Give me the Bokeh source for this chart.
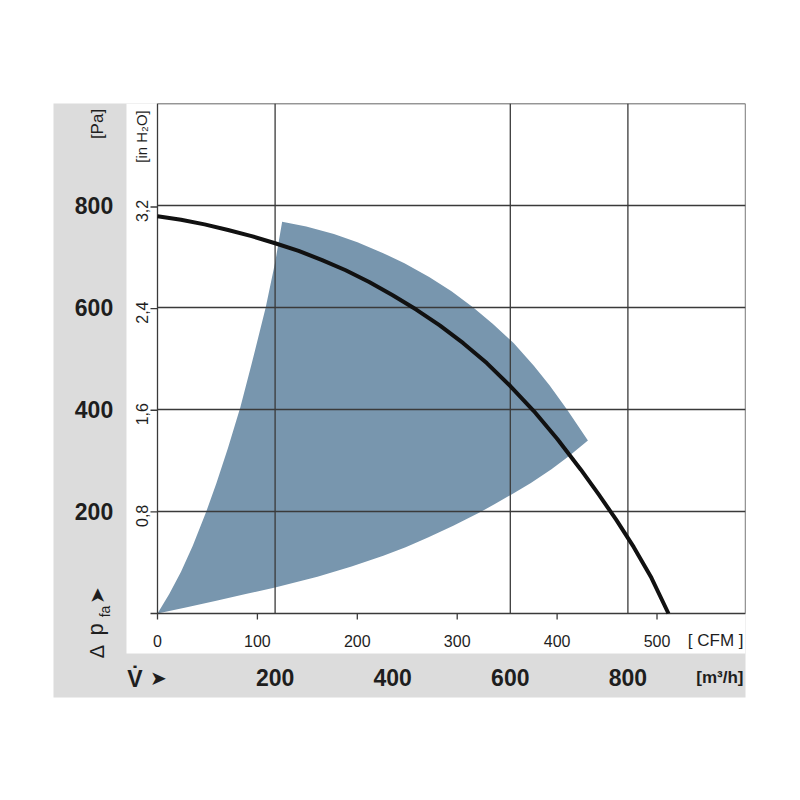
import math
from bokeh.plotting import figure
from bokeh.models import Range1d
from bokeh.core.properties import value
from bokeh.embed import file_html
from bokeh.resources import INLINE

# ---------------- data ----------------
# fan characteristic curve: flow [m3/h], static pressure [Pa]
curve_q = [0, 40, 80, 120, 160, 200, 240, 280, 320, 360, 400, 440, 480, 520,
           560, 600, 640, 680, 720, 750, 780, 810, 840, 869]
curve_p = [779, 772, 763, 752, 740, 726, 711, 693, 673, 650, 624, 596, 565, 530,
           491, 446, 397, 342, 282, 234, 184, 130, 70, 0]

# recommended operating area (shaded), three edges
area_left_q = [0, 20, 40, 60, 83, 100, 120, 141, 160, 184, 200, 212]
area_left_p = [0, 38, 82, 133, 200, 255, 325, 405, 489, 600, 688, 768]
area_top_q = [212, 253, 300, 340, 383, 420, 462, 500, 537, 570, 606, 640, 667, 697, 732]
area_top_p = [768, 759, 744, 728, 707, 687, 660, 632, 600, 568, 530, 486, 447, 399, 339]
area_bottom_q = [732, 700, 670, 635, 600, 573, 546, 503, 460, 422, 384, 330, 272,
                 200, 150, 100, 50, 0]
area_bottom_p = [339, 309, 283, 256, 232, 214, 197, 172, 149, 130, 113, 92, 72,
                 51, 38, 25, 12.5, 0]

pa_ticks = [200, 400, 600, 800]
pa_labels = ["200", "400", "600", "800"]
inh2o_ticks = [0.8, 1.6, 2.4, 3.2]
inh2o_labels = ["0,8", "1,6", "2,4", "3,2"]
cfm_ticks = [0, 100, 200, 300, 400, 500]
cfm_labels = ["0", "100", "200", "300", "400", "500"]
m3h_ticks = [200, 400, 600, 800]
m3h_labels = ["200", "400", "600", "800"]
v_grid = [200, 600, 800]
h_grid = [200, 400, 600, 800]

PA_PER_INH2O = 249.089
M3H_PER_CFM = 1.699011

# ---------------- layout ----------------
FONT = "Liberation Sans"
TXT = "#1e1e1e"
GRAY = "#dcdcdc"
FILL = "#7896ae"
GRID = "#3a3a3a"

SX = 0.588   # px per m3/h
SY = 0.510   # px per Pa
x0 = -(157 - 53) / SX
y0 = -(697 - 613) / SY

def dx(px):  # page-x -> data
    return (px - 157) / SX

def dy(py):  # page-y -> data
    return (613 - py) / SY

p = figure(width=784, height=730, output_backend="svg", toolbar_location=None,
           x_axis_location=None, y_axis_location=None, title=None,
           x_range=Range1d(x0, 1000), y_range=Range1d(y0, 1000),
           min_border_left=53, min_border_top=103, min_border_right=39,
           min_border_bottom=33)
p.outline_line_color = None
p.background_fill_color = GRAY
p.border_fill_color = "white"
for g in p.grid:
    g.visible = False

# white panel
p.quad(left=dx(126), right=1000, bottom=dy(653), top=1000,
       fill_color="white", line_color=None)

# shaded area
patch_x = area_left_q + area_top_q[1:] + area_bottom_q[1:]
patch_y = area_left_p + area_top_p[1:] + area_bottom_p[1:]
p.patch(patch_x, patch_y, fill_color=FILL, line_color=None)

# grid and frame
xs = [[q, q] for q in v_grid] + [[0, 1000] for _ in h_grid]
ys = [[0, 1000] for _ in v_grid] + [[v, v] for v in h_grid]
p.multi_line(xs, ys, line_color=GRID, line_width=1.3)
p.quad(left=0, right=1000, bottom=0, top=1000, fill_color=None,
       line_color=GRID, line_width=1.3)

# ticks: in H2O on the left, CFM below
tl = 7 / SX
txs = [[-tl, 0] for _ in [0] + inh2o_ticks]
tys = [[v * PA_PER_INH2O, v * PA_PER_INH2O] for v in [0] + inh2o_ticks]
p.multi_line(txs, tys, line_color=GRID, line_width=1.3)
tb = 6 / SY
bxs = [[c * M3H_PER_CFM, c * M3H_PER_CFM] for c in cfm_ticks]
bys = [[-tb, 0] for _ in cfm_ticks]
p.multi_line(bxs, bys, line_color=GRID, line_width=1.3)

# fan curve
p.line(curve_q, curve_p, line_color="#111111", line_width=4, line_join="round")

def txt(x, y, t, size, bold=False, align="center", angle=0.0, color=TXT):
    p.text(x=x, y=y, text=t, text_font=value(FONT), text_font_size=value(f"{size}px"),
           text_font_style="bold" if bold else "normal", text_align=align,
           text_baseline="middle", angle=angle, text_color=color)

# Pa labels (left gray column)
txt([dx(93.5)] * len(pa_ticks), pa_ticks, pa_labels, 23, bold=True)
txt([dx(96.5)], [dy(123.5)], ["[Pa]"], 17, angle=math.pi / 2)

# in H2O labels
txt([dx(141)] * len(inh2o_ticks), [v * PA_PER_INH2O - 4 / SY for v in inh2o_ticks],
    inh2o_labels, 16, angle=math.pi / 2)
txt([dx(141)], [dy(136)], ["[in H\u2082O]"], 15, angle=math.pi / 2)

# Delta p_fa arrow label
txt([dx(96)], [dy(651)], ["\u0394"], 20, angle=math.pi / 2)
txt([dx(95)], [dy(629)], ["p"], 22, angle=math.pi / 2)
txt([dx(104)], [dy(611)], ["fa"], 14, angle=math.pi / 2)
txt([dx(96)], [dy(595)], ["\u27a4"], 20, angle=math.pi / 2)

# CFM labels
txt([c * M3H_PER_CFM for c in cfm_ticks], [dy(640)] * len(cfm_ticks), cfm_labels, 16)
txt([dx(743)], [dy(640)], ["[ CFM ]"], 17, align="right")

# m3/h labels (bottom gray band)
txt(m3h_ticks, [dy(677)] * len(m3h_ticks), m3h_labels, 23, bold=True)
txt([dx(743)], [dy(677)], ["[m\u00b3/h]"], 17, bold=True, align="right")
txt([dx(134.5)], [dy(678)], ["V\u0307"], 23, bold=True)
txt([dx(157.5)], [dy(677)], ["\u27a4"], 20)

open("out.html", "w").write(file_html(p, INLINE))
